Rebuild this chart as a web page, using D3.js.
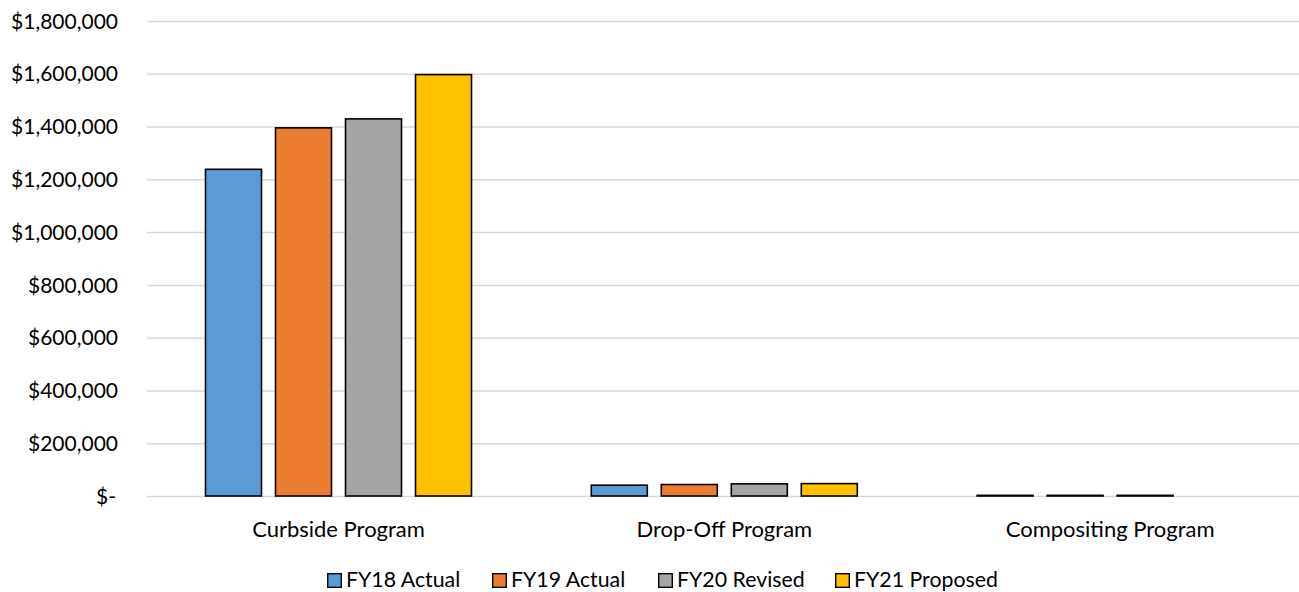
<!DOCTYPE html>
<html>
<head>
<meta charset="utf-8">
<script src="https://cdn.jsdelivr.net/npm/d3@7"></script>
<style>
  body { margin: 0; background: #fff; }
  svg text { font-family: Lato, "Open Sans", sans-serif; fill: #000; }
</style>
</head>
<body>
<div class="chart"></div>
<script>
// Data
const categories = ['Curbside Program', 'Drop-Off Program', 'Compositing Program'];
const seriesNames = ['FY18 Actual', 'FY19 Actual', 'FY20 Revised', 'FY21 Proposed'];
const fy18 = [1238000, 41000, 2500];
const fy19 = [1395000, 43500, 2500];
const fy20 = [1429000, 46000, 2500];
const fy21 = [1597000, 47000, null];
const yTicks = [0, 200000, 400000, 600000, 800000, 1000000, 1200000, 1400000, 1600000, 1800000];
const colors = ['#5B9BD5', '#ED7D31', '#A5A5A5', '#FFC000'];

const W = 1299, H = 592;
const values = [fy18, fy19, fy20, fy21];

const svg = d3.select('.chart').append('svg')
    .attr('width', W)
    .attr('height', H);

// Scales
const y = d3.scaleLinear().domain([0, 1800000]).range([496, 21]);
const x0 = d3.scaleBand().domain(categories).range([145.6, 1303]);
const groupW = 266;
const x1 = d3.scaleBand().domain(seriesNames)
    .range([(x0.bandwidth() - groupW) / 2, (x0.bandwidth() + groupW) / 2])
    .paddingInner(0.2);

const fmt = v => v === 0 ? '$-' : '$' + d3.format(',')(v);

// Grid lines + y labels
const yAxis = d3.axisLeft(y).tickValues(yTicks).tickSize(-(W - 147)).tickFormat(fmt).tickPadding(29);
const gy = svg.append('g').attr('transform', 'translate(147,0)').call(yAxis);
gy.select('.domain').remove();
gy.selectAll('.tick line').attr('stroke', '#d9d9d9').attr('stroke-width', 1.5);
gy.selectAll('.tick text').attr('font-size', 21).attr('dy', '0.34em');
gy.selectAll('.tick').filter(d => d === 0).select('text').attr('dx', -2);

// Bars
const groups = svg.append('g').selectAll('g')
    .data(categories)
    .join('g')
    .attr('transform', d => `translate(${x0(d)},0)`);

groups.selectAll('rect')
    .data((d, i) => seriesNames.map((s, j) => ({ s, v: values[j][i], c: colors[j] })).filter(e => e.v != null))
    .join('rect')
    .attr('x', d => x1(d.s))
    .attr('width', x1.bandwidth())
    .attr('y', d => y(d.v))
    .attr('height', d => y(0) - y(d.v))
    .attr('fill', d => d.c)
    .attr('stroke', '#000')
    .attr('stroke-width', 1.6);

// Category labels
const xAxis = d3.axisBottom(x0).tickSize(0).tickPadding(0);
const gx = svg.append('g').attr('transform', 'translate(0,496)').call(xAxis);
gx.select('.domain').remove();
gx.selectAll('.tick text').attr('font-size', 22).attr('y', 41).attr('dy', 0);

// Legend
const legendX = [327, 492, 658, 835];
const legend = svg.append('g').selectAll('g')
    .data(seriesNames)
    .join('g')
    .attr('transform', (d, i) => `translate(${legendX[i]},573)`);
legend.append('rect')
    .attr('x', 0.7).attr('y', 0.7)
    .attr('width', 13.6).attr('height', 13.6)
    .attr('fill', (d, i) => colors[i])
    .attr('stroke', '#000').attr('stroke-width', 1.4);
legend.append('text')
    .attr('x', 19).attr('y', 14)
    .attr('font-size', 21.3)
    .text(d => d);
</script>
</body>
</html>
